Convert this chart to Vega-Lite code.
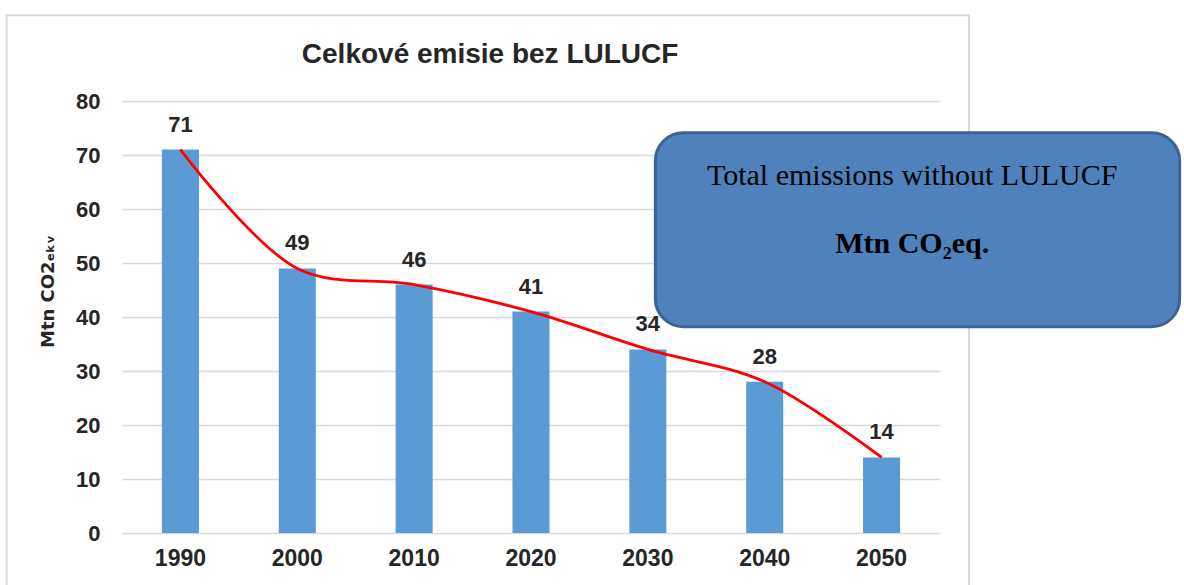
{
  "$schema": "https://vega.github.io/schema/vega-lite/v6.json",
  "width": 818,
  "height": 432,
  "autosize": {"type": "none"},
  "padding": {"left": 122, "top": 101, "right": 244, "bottom": 52},
  "background": "white",
  "config": {"view": {"stroke": null}, "font": "Liberation Sans"},
  "resolve": {"scale": {"x": "independent"}},
  "layer": [
    {
      "data": {"values": [{}]},
      "mark": {"type": "rect", "fill": null, "stroke": "#d9d9d9", "strokeWidth": 2},
      "encoding": {
        "x": {"datum": -0.141, "type": "quantitative", "scale": {"domain": [0, 1], "nice": false, "zero": false}, "axis": null},
        "x2": {"datum": 1.0355},
        "y": {"datum": 95.9, "type": "quantitative", "scale": {"domain": [0, 80], "nice": false}},
        "y2": {"datum": -15}
      }
    },
    {
      "data": {"values": [{"title": "Celkové emisie bez LULUCF"}]},
      "mark": {"type": "text", "font": "Liberation Sans", "fontSize": 28, "fontWeight": "bold", "color": "#262626", "align": "center", "baseline": "alphabetic"},
      "encoding": {
        "x": {"datum": 0.45, "type": "quantitative", "scale": {"domain": [0, 1], "nice": false, "zero": false}, "axis": null},
        "y": {"datum": 87.0, "type": "quantitative"},
        "text": {"field": "title", "type": "nominal"}
      }
    },
    {
      "data": {"values": [
        {"year": "1990", "value": 71},
        {"year": "2000", "value": 49},
        {"year": "2010", "value": 46},
        {"year": "2020", "value": 41},
        {"year": "2030", "value": 34},
        {"year": "2040", "value": 28},
        {"year": "2050", "value": 14}
      ]},
      "encoding": {
        "x": {
          "field": "year",
          "type": "nominal",
          "scale": {"type": "band", "paddingInner": 0.683, "paddingOuter": 0.3415},
          "axis": {
            "title": null,
            "labelAngle": 0,
            "labelFont": "Liberation Sans",
            "labelFontSize": 23,
            "labelFontWeight": "bold",
            "labelColor": "#262626",
            "labelPadding": 14,
            "ticks": false,
            "domain": false
          }
        },
        "y": {
          "field": "value",
          "type": "quantitative",
          "scale": {"domain": [0, 80], "nice": false},
          "axis": {
            "values": [0, 10, 20, 30, 40, 50, 60, 70, 80],
            "title": "Mtn CO2ₑₖᵥ",
            "titleFont": "DejaVu Sans",
            "titleFontSize": 18,
            "titleFontWeight": "bold",
            "titleColor": "#262626",
            "titleAngle": -90,
            "titleX": -74,
            "titleY": 190,
            "titleAlign": "center",
            "titleBaseline": "middle",
            "labelFont": "Liberation Sans",
            "labelFontSize": 22,
            "labelFontWeight": "bold",
            "labelColor": "#262626",
            "labelPadding": 22,
            "ticks": false,
            "domain": false,
            "grid": true,
            "gridColor": "#d9d9d9",
            "gridWidth": 1.5
          }
        }
      },
      "layer": [
        {"mark": {"type": "bar", "color": "#5b9bd5"}},
        {
          "mark": {"type": "text", "font": "Liberation Sans", "fontSize": 22, "fontWeight": "bold", "color": "#262626", "baseline": "alphabetic", "dy": -18},
          "encoding": {"text": {"field": "value", "type": "quantitative"}}
        },
        {"mark": {"type": "line", "color": "#ff0000", "strokeWidth": 2.8, "interpolate": "catmull-rom"}}
      ]
    },
    {
      "data": {"values": [{}]},
      "mark": {"type": "rect", "fill": "#4f81bd", "stroke": "#3d6491", "strokeWidth": 3, "cornerRadius": 28},
      "encoding": {
        "x": {"datum": 0.652, "type": "quantitative", "scale": {"domain": [0, 1], "nice": false, "zero": false}, "axis": null},
        "x2": {"datum": 1.293},
        "y": {"datum": 74.1, "type": "quantitative"},
        "y2": {"datum": 38.2}
      }
    },
    {
      "data": {"values": [{"line": "Total emissions without LULUCF"}]},
      "mark": {"type": "text", "font": "Liberation Serif", "fontSize": 30, "color": "#000000", "align": "center", "baseline": "alphabetic"},
      "encoding": {
        "x": {"datum": 0.966, "type": "quantitative", "scale": {"domain": [0, 1], "nice": false, "zero": false}, "axis": null},
        "y": {"datum": 64.4, "type": "quantitative"},
        "text": {"field": "line", "type": "nominal"}
      }
    },
    {
      "data": {"values": [{"line": "Mtn CO₂eq."}]},
      "mark": {"type": "text", "font": "Liberation Serif", "fontSize": 30, "fontWeight": "bold", "color": "#000000", "align": "center", "baseline": "alphabetic"},
      "encoding": {
        "x": {"datum": 0.966, "type": "quantitative", "scale": {"domain": [0, 1], "nice": false, "zero": false}, "axis": null},
        "y": {"datum": 51.8, "type": "quantitative"},
        "text": {"field": "line", "type": "nominal"}
      }
    }
  ]
}
